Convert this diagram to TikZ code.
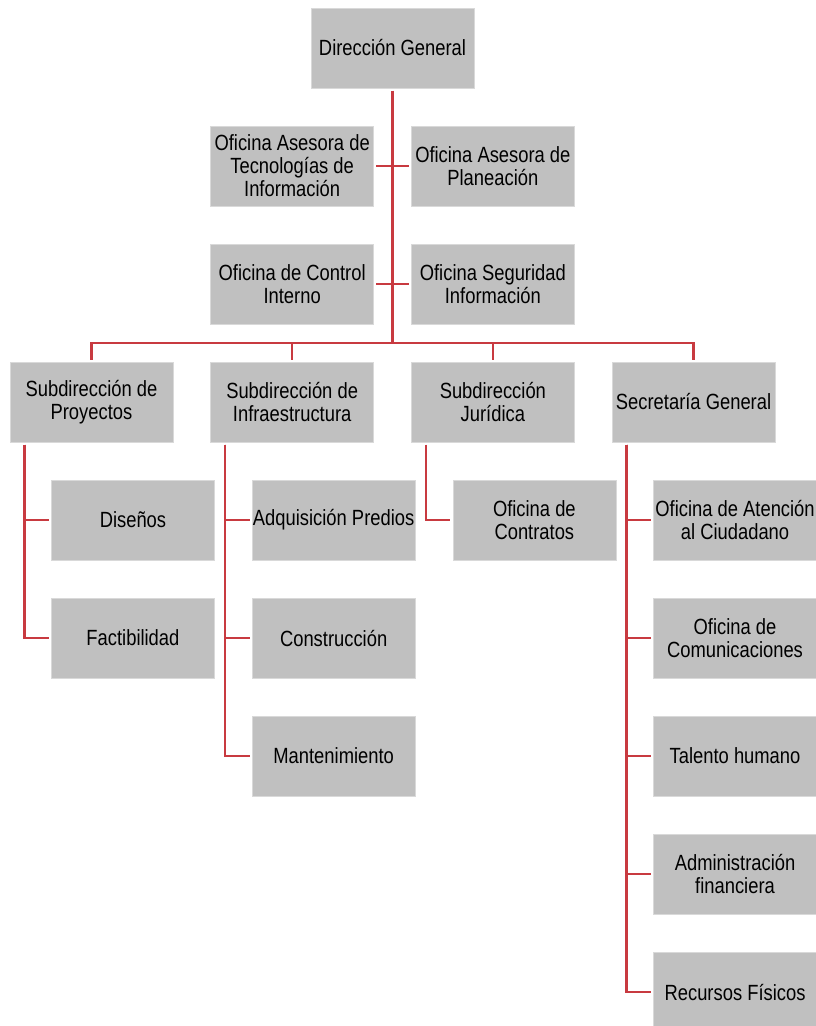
\documentclass[tikz,border=0pt]{standalone}
\usepackage{fontspec}
\setmainfont{Liberation Sans}[FakeStretch=0.835]
\usetikzlibrary{positioning,calc}
\definecolor{boxgray}{RGB}{192,192,192}
\definecolor{linkred}{RGB}{200,58,64}
\tikzset{
    unit/.style = {rectangle, fill=boxgray, draw=white!85!black, line width=0.6pt,
        minimum height=80pt,
        minimum width=163pt,
        inner sep=0pt, outer sep=2.5pt, align=center,
        font={\fontsize{22}{23}\selectfont}},
    link/.style = {draw=linkred, line width=2.4pt},
}

\begin{document}
\begin{tikzpicture}[node distance=33pt and 32.7pt]
	\useasboundingbox (0pt,0pt) rectangle (815pt,-1026pt);

	% direccion
	\node [unit] (dirGen) at (392.5pt,-48pt) {Dirección General};

	% oficinas asesoras
	\node [unit, below=of dirGen, xshift=-100.35pt] (ofTec) {Oficina Asesora de\\Tecnologías de\\Información};
	\node [unit, right=of ofTec] (ofPlan) {Oficina Asesora de\\Planeación};
	\node [unit, below=of ofTec] (ofCtrl) {Oficina de Control\\Interno};
	\node [unit, below=of ofPlan] (ofSeg) {Oficina Seguridad\\Información};

	% subdirecciones
	\node [unit, below=of ofCtrl] (subInfra) {Subdirección de\\Infraestructura};
	\node [unit, left=of subInfra] (subProy) {Subdirección de\\Proyectos};
	\node [unit, below=of ofSeg] (subJur) {Subdirección\\Jurídica};
	\node [unit, right=of subJur] (secGen) {Secretaría General};

	% proyectos
	\node [unit, below=of subProy, xshift=41.5pt] (disenos) {Diseños};
	\node [unit, below=of disenos] (factib) {Factibilidad};

	% infraestructura
	\node [unit, below=of subInfra, xshift=41.5pt] (predios) {Adquisición Predios};
	\node [unit, below=of predios] (constr) {Construcción};
	\node [unit, below=of constr] (mant) {Mantenimiento};

	% juridica
	\node [unit, below=of subJur, xshift=41.5pt] (ofCont) {Oficina de\\Contratos};

	% secretaria
	\node [unit, below=of secGen, xshift=41.5pt] (atenc) {Oficina de Atención\\al Ciudadano};
	\node [unit, below=of atenc] (comun) {Oficina de\\Comunicaciones};
	\node [unit, below=of comun] (talento) {Talento humano};
	\node [unit, below=of talento] (admin) {Administración\\financiera};
	\node [unit, below=of admin] (recursos) {Recursos Físicos};

	%% lines
	\coordinate (bus) at ($(ofCtrl.south)!0.5!(subInfra.north)$);
	\draw [link] (dirGen) -- (dirGen |- bus);
	\draw [link] (ofTec) -- (ofPlan);
	\draw [link] (ofCtrl) -- (ofSeg);
	\draw [link] (subProy) |- (dirGen |- bus) -| (secGen);
	\draw [link] (subInfra) -- (subInfra |- bus);
	\draw [link] (subJur) -- (subJur |- bus);

	\draw [link] ([xshift=17pt]subProy.south west) |- (factib);
	\draw [link] ([xshift=17pt]subProy.south west) |- (disenos);

	\draw [link] ([xshift=17pt]subInfra.south west) |- (mant);
	\draw [link] ([xshift=17pt]subInfra.south west) |- (constr);
	\draw [link] ([xshift=17pt]subInfra.south west) |- (predios);

	\draw [link] ([xshift=17pt]subJur.south west) |- (ofCont);

	\draw [link] ([xshift=17pt]secGen.south west) |- (recursos);
	\draw [link] ([xshift=17pt]secGen.south west) |- (admin);
	\draw [link] ([xshift=17pt]secGen.south west) |- (talento);
	\draw [link] ([xshift=17pt]secGen.south west) |- (comun);
	\draw [link] ([xshift=17pt]secGen.south west) |- (atenc);
\end{tikzpicture}
\end{document}
